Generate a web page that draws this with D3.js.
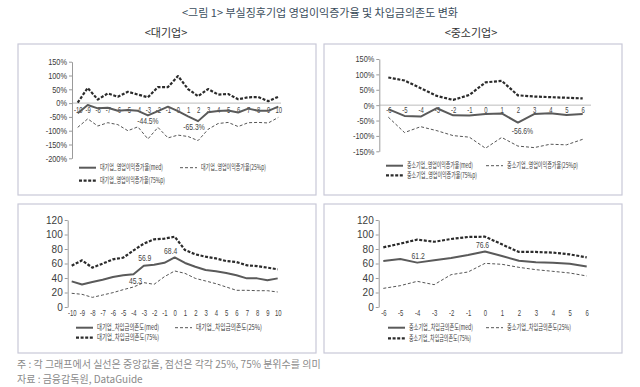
<!DOCTYPE html>
<html>
<head>
<meta charset="utf-8">
<script src="https://cdn.jsdelivr.net/npm/d3@7"></script>
<style>
  html, body { margin: 0; padding: 0; background: #fff; }
  svg { display: block; }
  .narrow { font-family: 'Liberation Sans', Arial, sans-serif; }
  .kr { font-family: 'Noto Sans CJK KR', 'Noto Sans', sans-serif; }
</style>
</head>
<body>
<svg id="chart" width="640" height="387"></svg>
<script>
// ---------------------------------------------------------------------------
// Data: 부실징후기업 영업이익증가율 및 차입금의존도 (event time, years)
// ---------------------------------------------------------------------------
const yearsLarge = [-10, -9, -8, -7, -6, -5, -4, -3, -2, -1, 0, 1, 2, 3, 4, 5, 6, 7, 8, 9, 10];
const yearsSme = [-6, -5, -4, -3, -2, -1, 0, 1, 2, 3, 4, 5, 6];

const growthTicksLarge = [150, 100, 50, 0, -50, -100, -150, -200];
const growthTicksSme = [150, 100, 50, 0, -50, -100, -150];
const debtTicks = [0, 20, 40, 60, 80, 100, 120];

// 영업이익증가율 (%), 대기업
const largeGrowthMed = [-37, -7, -19, -17, -28, -25, -28, -44.5, -29, -13, -29, -48, -65.3, -33, -29, -27, -34, -20, -28, -28, -13];
const largeGrowthP25 = [-88, -57, -83, -71, -78, -100, -86, -130, -88, -126, -116, -121, -136, -95, -74, -70, -85, -71, -70, -72, -52];
const largeGrowthP75 = [2, 55, 13, 35, 23, 41, 31, 21, 58, 58, 98, 51, 25, 51, 31, 33, 14, 21, 22, 7, 23];

// 영업이익증가율 (%), 중소기업
const smeGrowthMed = [-13, -35, -37, -10, -33, -34, -29, -27, -56.6, -29, -26, -32, -29];
const smeGrowthP25 = [-39, -89, -70, -83, -99, -104, -140, -105, -133, -138, -127, -129, -111];
const smeGrowthP75 = [90, 80, 55, 30, 17, 33, 74, 79, 32, 28, 26, 24, 22];

// 차입금의존도 (%), 대기업
const largeDebtMed = [35.4, 31, 34.5, 37.7, 41.4, 43.7, 45.3, 56.9, 58.4, 61, 68.4, 60.7, 55.6, 51, 49.2, 46.9, 43.7, 39.5, 39.5, 36.8, 39.5];
const largeDebtP25 = [18.9, 17.5, 13.3, 16.5, 19.8, 23.9, 27.6, 33.6, 31.3, 41.8, 49.7, 46.4, 39.5, 35.9, 32.2, 27.6, 23, 23, 22.5, 22.5, 20.7];
const largeDebtP75 = [57, 64.4, 54.3, 59.8, 65.7, 68, 78, 87.4, 93.3, 94.3, 97, 78.6, 72.6, 69.4, 67, 63.4, 62, 57.5, 56.5, 54.3, 52];

// 차입금의존도 (%), 중소기업
const smeDebtMed = [63.4, 66.2, 61.2, 64.4, 67.6, 71.7, 76.6, 70.3, 63.9, 61.6, 61.1, 59.8, 56];
const smeDebtP25 = [25.7, 29.4, 35.4, 30.8, 44.6, 48.3, 60.2, 58.9, 54.7, 51.5, 49.2, 46.9, 42.8];
const smeDebtP75 = [82.3, 87.4, 92.9, 90, 93.8, 96.6, 97, 86.4, 75.9, 75.9, 75, 72.6, 68.5];

const titleText = '<그림 1> 부실징후기업 영업이익증가율 및 차입금의존도 변화';
const noteText = '주 : 각 그래프에서 실선은 중앙값을, 점선은 각각 25%, 75% 분위수를 의미';
const sourceText = '자료 : 금융감독원, DataGuide';

// ---------------------------------------------------------------------------
const svg = d3.select('#chart');

const STYLE = {
  med: { stroke: '#5a5a5a', width: 2, dash: null },
  p25: { stroke: '#555', width: 1, dash: '3 2' },
  p75: { stroke: '#2b2b2b', width: 2.2, dash: '3 1.6' }
};

// squeeze text horizontally around its own x (no condensed face installed)
function condense(sel, k) {
  sel.each(function () {
    const t = d3.select(this);
    const x0 = +t.attr('x') || 0;
    t.attr('transform', `translate(${x0},0) scale(${k},1) translate(${-x0},0)`);
  });
}

// Title + section headings
svg.append('text').attr('class', 'kr')
  .attr('x', 320).attr('y', 17).attr('text-anchor', 'middle')
  .attr('font-size', 11).attr('fill', '#3b4d5c')
  .text(titleText);
svg.append('text').attr('class', 'kr')
  .attr('x', 166).attr('y', 37).attr('text-anchor', 'middle')
  .attr('font-size', 11).attr('fill', '#333').text('<대기업>');
svg.append('text').attr('class', 'kr')
  .attr('x', 471).attr('y', 37).attr('text-anchor', 'middle')
  .attr('font-size', 11).attr('fill', '#333').text('<중소기업>');

// Panel frames
[[18, 44], [324, 44], [18, 204], [324, 204]].forEach(([px, py]) => {
  svg.append('rect')
    .attr('x', px).attr('y', py)
    .attr('width', 298).attr('height', py < 100 ? 151 : 149)
    .attr('fill', 'none').attr('stroke', '#c9c9d8').attr('stroke-width', 1.2);
});

function drawPanel(cfg) {
  const g = svg.append('g');
  const x = d3.scaleLinear().domain(d3.extent(cfg.cats)).range(cfg.xRange);
  const y = d3.scaleLinear().domain(cfg.yDomain).range(cfg.yRange);

  // zero reference line (growth charts)
  if (cfg.zeroLine) {
    g.append('line')
      .attr('x1', cfg.axisX).attr('x2', cfg.zeroEnd)
      .attr('y1', y(0)).attr('y2', y(0))
      .attr('stroke', '#bdbdbd').attr('stroke-width', 1);
  }

  // y axis
  const yAxis = g.append('g')
    .attr('transform', `translate(${cfg.axisX},0)`)
    .call(d3.axisLeft(y).tickValues(cfg.yTicks).tickSize(3).tickSizeOuter(0).tickPadding(2)
      .tickFormat(cfg.yFmt));
  yAxis.select('.domain').attr('stroke', '#9a9a9a');
  yAxis.selectAll('.tick line').attr('stroke', '#9a9a9a');
  yAxis.selectAll('text')
    .attr('class', 'narrow')
    .attr('font-size', cfg.yFontSize)
    .attr('fill', '#3c3c3c');
  if (cfg.yCondense) condense(yAxis.selectAll('text'), cfg.yCondense);

  // x labels
  const xAxis = g.append('g')
    .attr('transform', `translate(0,${cfg.xLabelY})`)
    .call(d3.axisBottom(x).tickValues(cfg.cats).tickSize(0).tickPadding(0).tickFormat(d => String(d)));
  xAxis.select('.domain').remove();
  xAxis.selectAll('text')
    .attr('class', 'narrow')
    .attr('font-size', 8.5)
    .attr('fill', '#444');
  condense(xAxis.selectAll('text'), 0.7);

  const line = d3.line().x((_, i) => x(cfg.cats[i])).y(d => y(d));

  // series: 25%, 75%, med
  [['p25', cfg.p25], ['p75', cfg.p75], ['med', cfg.med]].forEach(([k, vals]) => {
    const s = STYLE[k];
    g.append('path')
      .datum(vals)
      .attr('d', line)
      .attr('fill', 'none')
      .attr('stroke', s.stroke)
      .attr('stroke-width', s.width)
      .attr('stroke-dasharray', s.dash)
      .attr('stroke-linejoin', 'round');
  });

  // value annotations
  cfg.notes.forEach(n => {
    const v = cfg.med[n.i];
    const t = g.append('text')
      .attr('class', 'narrow')
      .attr('x', x(cfg.cats[n.i]) + n.dx)
      .attr('y', y(v) + n.dy)
      .attr('text-anchor', 'middle')
      .attr('font-size', 8.5)
      .attr('fill', '#444')
      .text(n.fmt(v));
    condense(t, 0.8);
  });

  // legend
  cfg.legend.forEach(item => {
    const s = STYLE[item.key];
    g.append('line')
      .attr('x1', item.x).attr('x2', item.x + 17)
      .attr('y1', item.y).attr('y2', item.y)
      .attr('stroke', s.stroke)
      .attr('stroke-width', s.width)
      .attr('stroke-dasharray', s.dash);
    g.append('text')
      .attr('class', 'kr')
      .attr('x', item.x + 21).attr('y', item.y + 2.7)
      .attr('font-size', 7.5)
      .attr('fill', '#3a3a3a')
      .attr('textLength', item.w)
      .attr('lengthAdjust', 'spacingAndGlyphs')
      .text(item.label);
  });
}

const pct = d => `${d}%`;
const pctNote = v => `${v.toFixed(1)}%`;
const numNote = v => v.toFixed(1);

drawPanel({
  cats: yearsLarge, med: largeGrowthMed, p25: largeGrowthP25, p75: largeGrowthP75,
  xRange: [77.7, 278.3], yDomain: [-200, 150], yRange: [158.3, 61.7],
  yTicks: growthTicksLarge, yFmt: pct, yFontSize: 9, yCondense: 0.82,
  axisX: 72, zeroLine: true, zeroEnd: 281, xLabelY: 107,
  notes: [{ i: 7, dx: 0, dy: 9, fmt: pctNote }, { i: 12, dx: -4, dy: 8.5, fmt: pctNote }],
  legend: [
    { key: 'med', x: 79, y: 167.7, w: 63, label: '대기업_영업이익증가율(med)' },
    { key: 'p25', x: 180, y: 167.7, w: 65, label: '대기업_영업이익증가율(25%p)' },
    { key: 'p75', x: 79, y: 180.7, w: 65, label: '대기업_영업이익증가율(75%p)' }
  ]
});

drawPanel({
  cats: yearsSme, med: smeGrowthMed, p25: smeGrowthP25, p75: smeGrowthP75,
  xRange: [388.3, 582.7], yDomain: [-150, 150], yRange: [151.3, 59],
  yTicks: growthTicksSme, yFmt: pct, yFontSize: 9, yCondense: 0.82,
  axisX: 379.3, zeroLine: true, zeroEnd: 591, xLabelY: 107,
  notes: [{ i: 8, dx: 4.5, dy: 11.5, fmt: pctNote }],
  legend: [
    { key: 'med', x: 386, y: 165.7, w: 66, label: '중소기업_영업이익증가율(med)' },
    { key: 'p25', x: 486, y: 165.7, w: 71, label: '중소기업_영업이익증가율(25%p)' },
    { key: 'p75', x: 386, y: 175.3, w: 70, label: '중소기업_영업이익증가율(75%p)' }
  ]
});

drawPanel({
  cats: yearsLarge, med: largeDebtMed, p25: largeDebtP25, p75: largeDebtP75,
  xRange: [71.7, 277.7], yDomain: [0, 120], yRange: [307, 220],
  yTicks: debtTicks, yFmt: d => String(d), yFontSize: 10, yCondense: 0,
  axisX: 67.7, zeroLine: false, xLabelY: 309.5,
  notes: [{ i: 6, dx: 2, dy: 9.5, fmt: numNote }, { i: 7, dx: 1, dy: -5, fmt: numNote }, { i: 10, dx: -4, dy: -3, fmt: numNote }],
  legend: [
    { key: 'med', x: 76, y: 327.7, w: 62, label: '대기업_차입금의존도(med)' },
    { key: 'p25', x: 175, y: 327.7, w: 66, label: '대기업_차입금의존도(25%)' },
    { key: 'p75', x: 76, y: 337.7, w: 62, label: '대기업_차입금의존도(75%)' }
  ]
});

drawPanel({
  cats: yearsSme, med: smeDebtMed, p25: smeDebtP25, p75: smeDebtP75,
  xRange: [383.3, 586.7], yDomain: [0, 120], yRange: [307, 220],
  yTicks: debtTicks, yFmt: d => String(d), yFontSize: 10, yCondense: 0,
  axisX: 378.7, zeroLine: false, xLabelY: 309.5,
  notes: [{ i: 2, dx: 1, dy: -4, fmt: numNote }, { i: 6, dx: -2.5, dy: -3, fmt: numNote }],
  legend: [
    { key: 'med', x: 388, y: 327.7, w: 64, label: '중소기업_차입금의존도(med)' },
    { key: 'p25', x: 486, y: 327.7, w: 64, label: '중소기업_차입금의존도(25%)' },
    { key: 'p75', x: 388, y: 338.3, w: 62, label: '중소기업_차입금의존도(75%)' }
  ]
});

// Footnotes
svg.append('text').attr('class', 'kr')
  .attr('x', 17).attr('y', 368).attr('font-size', 10).attr('fill', '#8a8a8a')
  .text(noteText);
svg.append('text').attr('class', 'kr')
  .attr('x', 17).attr('y', 383).attr('font-size', 10).attr('fill', '#8a8a8a')
  .text(sourceText);
</script>
</body>
</html>
